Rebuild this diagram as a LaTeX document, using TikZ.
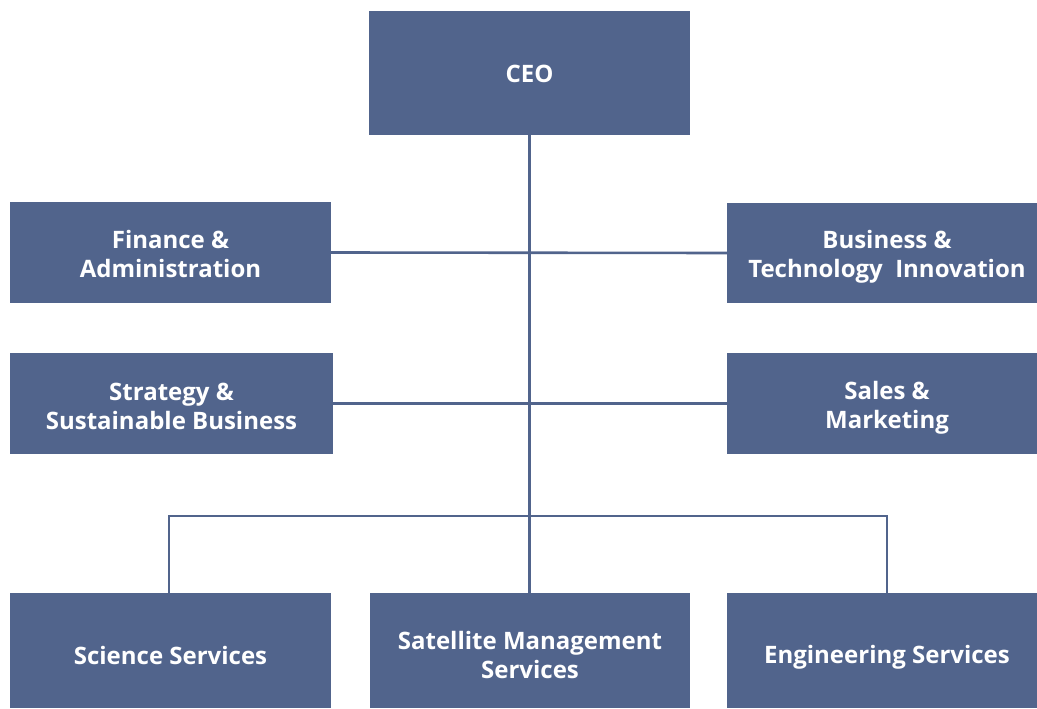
\documentclass[tikz,border=0pt]{standalone}
\usepackage{fontspec}
\setmainfont{Open Sans}
\definecolor{boxblue}{HTML}{51648C}
\begin{document}
\begin{tikzpicture}[x=1pt,y=-1pt,
  box/.style={fill=boxblue,draw=none,inner sep=0pt},
  lbl/.style={text=white,font=\bfseries\fontsize{24}{29}\selectfont,align=center,inner sep=0pt},
  conn/.style={draw=boxblue,line width=2.6pt}]
\useasboundingbox (0,0) rectangle (1037,709);
\node[box,minimum width=321,minimum height=124] (ceo) at (529.5,73) {};
\node[box,minimum width=321,minimum height=101] (fin) at (170.5,252.5) {};
\node[box,minimum width=310,minimum height=100] (bti) at (882,253) {};
\node[box,minimum width=323,minimum height=101] (str) at (171.5,403.5) {};
\node[box,minimum width=310,minimum height=101] (sal) at (882,403.5) {};
\node[box,minimum width=321,minimum height=115] (sci) at (170.5,650.5) {};
\node[box,minimum width=320,minimum height=115] (sat) at (530,650.5) {};
\node[box,minimum width=310,minimum height=115] (eng) at (882,650.5) {};
\node[lbl] (ceo-t) at ([yshift=-1pt]ceo.center) {CEO};
\node[lbl] (fin-t) at ([yshift=-1.5pt]fin.center) {Finance \&\\Administration};
\node[lbl] (bti-t) at ([xshift=5pt,yshift=-4pt]bti.center) {Business \&\\Technology\ \ Innovation};
\node[lbl] (str-t) at ([yshift=-2.5pt]str.center) {Strategy \&\\Sustainable Business};
\node[lbl] (sal-t) at ([xshift=5pt,yshift=-4.5pt]sal.center) {Sales \&\\Marketing};
\node[lbl] (sci-t) at ([yshift=-5pt]sci.center) {Science Services};
\node[lbl] (sat-t) at ([yshift=-4.5pt]sat.center) {Satellite Management\\Services};
\node[lbl] (eng-t) at ([xshift=5pt,yshift=-7pt]eng.center) {Engineering Services};
\coordinate (bl) at (169,516);
\coordinate (br) at (887,516);
\draw[conn] (ceo.south) -- (ceo.south |- sat.north);
\draw[conn] (fin.east) -- (bti.west);
\draw[conn] (str.east) -- (sal.west);
\draw[conn] (bl |- sci.north) -- (bl) -- (br) -- (br |- eng.north);
\end{tikzpicture}
\end{document}
